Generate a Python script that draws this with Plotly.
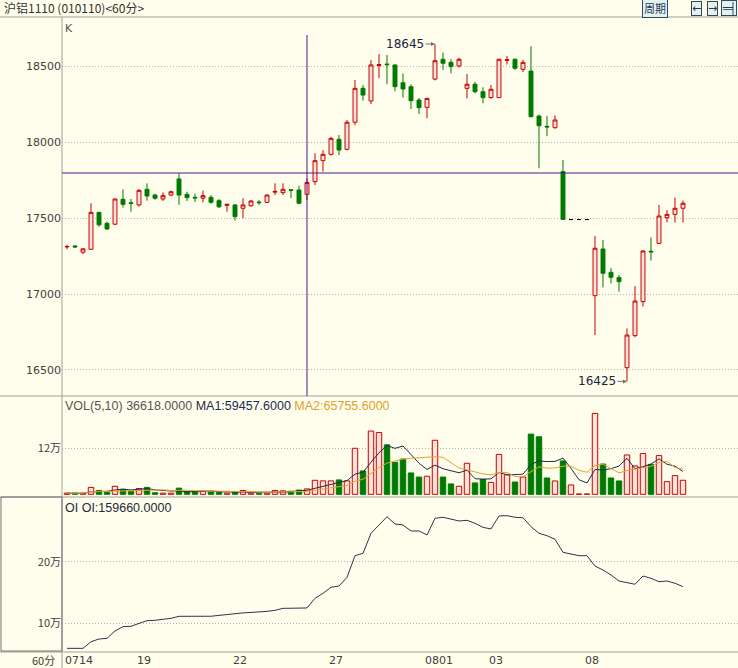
import plotly.graph_objects as go

W, H = 738, 668

# ---------------- data ----------------
candle_no = list(range(1, 79))
open_ = [17310, 17316, 17275, 17294, 17537, 17465, 17459, 17623, 17600, 17586,
         17689, 17651, 17625, 17651, 17757, 17656, 17636, 17630, 17636, 17614,
         17583, 17586, 17564, 17581, 17605, 17603, 17670, 17667, 17686, 17684,
         17656, 17739, 17877, 17919, 18018, 17952, 18130, 18353, 18270, 18503,
         18513, 18507, 18390, 18364, 18276, 18228, 18414, 18544, 18524, 18500,
         18353, 18380, 18331, 18292, 18292, 18537, 18544, 18478, 18467, 18171,
         18103, 18094, 17805, 17490, 17490, 17490, 16989, 17296, 17143, 17108,
         16515, 16726, 16950, 17281, 17333, 17502, 17524, 17564]
close = [17312, 17310, 17297, 17537, 17455, 17428, 17625, 17590, 17596, 17682,
         17645, 17630, 17647, 17673, 17651, 17634, 17632, 17647, 17603, 17574,
         17590, 17509, 17586, 17612, 17601, 17651, 17675, 17689, 17682, 17597,
         17733, 17877, 17919, 18024, 17947, 18130, 18353, 18309, 18507, 18509,
         18509, 18364, 18349, 18272, 18226, 18287, 18535, 18518, 18496, 18544,
         18380, 18331, 18292, 18347, 18544, 18541, 18485, 18524, 18167, 18107,
         18099, 18145, 17491, 17490, 17490, 17490, 17301, 17136, 17110, 17081,
         16730, 16954, 17283, 17277, 17513, 17524, 17564, 17597]
high = [17325, 17322, 17300, 17597, 17540, 17476, 17628, 17689, 17625, 17690,
        17728, 17660, 17669, 17680, 17794, 17673, 17660, 17680, 17650, 17625,
        17592, 17590, 17630, 17618, 17618, 17655, 17728, 17728, 17690, 17713,
        17761, 17926, 17947, 18035, 18046, 18145, 18408, 18375, 18539, 18579,
        18572, 18510, 18452, 18380, 18290, 18290, 18645, 18588, 18545, 18555,
        18447, 18395, 18360, 18375, 18548, 18566, 18550, 18540, 18630, 18180,
        18171, 18175, 17882, 17490, 17490, 17490, 17382, 17355, 17170, 17125,
        16774, 17053, 17290, 17373, 17586, 17553, 17634, 17614]
low = [17295, 17303, 17262, 17290, 17443, 17421, 17455, 17568, 17541, 17575,
       17614, 17620, 17612, 17645, 17586, 17612, 17605, 17603, 17595, 17565,
       17541, 17483, 17498, 17575, 17586, 17600, 17651, 17651, 17630, 17590,
       17618, 17717, 17805, 17910, 17914, 17945, 18110, 18272, 18250, 18419,
       18380, 18335, 18292, 18217, 18184, 18156, 18405, 18474, 18452, 18490,
       18287, 18320, 18255, 18285, 18290, 18510, 18475, 18460, 18160, 17827,
       18039, 18088, 17488, 17490, 17490, 17490, 16730, 17044, 17070, 17015,
       16425, 16715, 16917, 17220, 17330, 17472, 17470, 17470]
volume = [3000, 3000, 2500, 18000, 10000, 5000, 21000, 13000, 8000, 15000,
          18000, 4000, 3000, 3000, 16000, 7000, 7000, 8000, 6000, 5000,
          3000, 6000, 10000, 3000, 2500, 3000, 10000, 9000, 8000, 11000,
          14000, 36500, 35000, 35000, 37500, 35000, 120000, 61000, 165000, 161000,
          129000, 83500, 92000, 55700, 45000, 47000, 141000, 45000, 27000, 21000,
          81000, 29600, 39000, 31000, 104000, 51000, 32000, 45000, 157000, 150000,
          42600, 34800, 87000, 24400, 800, 800, 211000, 79000, 42600, 34800,
          102600, 74000, 106268, 78000, 101000, 33000, 48670, 36618]
open_interest = [59600, 59600, 59600, 70300, 74700, 75800, 87700, 94700, 95300, 100000,
                 104400, 105000, 106600, 108200, 111500, 111500, 111500, 111500, 111600, 113000,
                 114500, 116300, 117000, 117800, 118500, 119500, 121200, 124400, 124600, 124800,
                 125000, 140700, 148800, 158500, 160600, 174700, 209700, 213600, 246000, 259500,
                 272900, 261100, 259500, 249800, 249800, 243300, 270300, 272000, 269200, 266000,
                 267100, 262200, 255700, 253000, 274100, 274600, 272000, 271300, 256700, 246000,
                 242100, 236300, 215200, 212000, 209700, 209700, 193000, 186500, 178400, 168700,
                 166600, 163400, 176800, 173100, 167600, 168700, 165000, 159660]
flat_candles = [64, 65, 66]          # locked bars drawn as black dashes
day_labels = ["0714", "19", "22", "27", "0801", "03", "08"]
day_start = [1, 10, 22, 34, 46, 54, 66]
price_ticks = [16500, 17000, 17500, 18000, 18500]
vol_ticks = [120000]
vol_tick_text = ["12万"]
oi_ticks = [100000, 200000]
oi_tick_text = ["10万", "20万"]
ma_periods = [5, 10]
crosshair_candle = 31
crosshair_price = 17796
high_mark = (47, 18645)
low_mark = (71, 16425)

# ---------------- styles ----------------
BG = "#FFFEEC"
RED = "#C80000"
PINK = "#FFE4DC"
GREEN = "#007A00"
GRID = "#B4B4B4"
BORDER = "#A0A0A0"
LBL = "#404040"
CROSS = "#4A1A8C"
FONT = "DejaVu Sans"
CJK = "Noto Sans CJK SC"


def px_y(p):
    return 1 - p / H


def px_x(p):
    return p / W


def moving_avg(vals, n):
    out = []
    for i in range(len(vals)):
        w = vals[max(0, i - n + 1):i + 1]
        out.append(sum(w) / len(w))
    return out


fig = go.Figure()

norm = [i for i, n in enumerate(candle_no) if n not in flat_candles]
flat = [i for i, n in enumerate(candle_no) if n in flat_candles]

fig.add_trace(go.Candlestick(
    x=[candle_no[i] for i in norm], open=[open_[i] for i in norm],
    high=[high[i] for i in norm], low=[low[i] for i in norm],
    close=[close[i] for i in norm],
    increasing=dict(line=dict(color=RED, width=1), fillcolor=PINK),
    decreasing=dict(line=dict(color=GREEN, width=1), fillcolor=GREEN),
    whiskerwidth=0, xaxis="x", yaxis="y", hoverinfo="skip"))
fig.add_trace(go.Candlestick(
    x=[candle_no[i] for i in flat], open=[open_[i] for i in flat],
    high=[high[i] for i in flat], low=[low[i] for i in flat],
    close=[close[i] for i in flat],
    increasing=dict(line=dict(color="#000000", width=1), fillcolor="#000000"),
    decreasing=dict(line=dict(color="#000000", width=1), fillcolor="#000000"),
    whiskerwidth=0, xaxis="x", yaxis="y", hoverinfo="skip"))

up = [c >= o for o, c in zip(open_, close)]
fig.add_trace(go.Bar(
    x=candle_no, y=volume, width=0.68,
    marker=dict(color=[PINK if u else GREEN for u in up],
                line=dict(color=[RED if u else GREEN for u in up], width=1)),
    xaxis="x2", yaxis="y2", hoverinfo="skip"))
fig.add_trace(go.Scatter(x=candle_no, y=moving_avg(volume, ma_periods[0]), mode="lines",
                         line=dict(color="#1E2A55", width=1), xaxis="x2", yaxis="y2",
                         hoverinfo="skip"))
fig.add_trace(go.Scatter(x=candle_no, y=moving_avg(volume, ma_periods[1]), mode="lines",
                         line=dict(color="#E8A030", width=1), xaxis="x2", yaxis="y2",
                         hoverinfo="skip"))
fig.add_trace(go.Scatter(x=candle_no, y=open_interest, mode="lines",
                         line=dict(color="#2A3550", width=1), xaxis="x3", yaxis="y3",
                         hoverinfo="skip"))

xr = [0.375, 84.875]
xdom = [px_x(62), 1]
xcommon = dict(domain=xdom, range=xr, showticklabels=False, showgrid=False,
               zeroline=False, showline=False, ticks="", fixedrange=True)
ycommon = dict(showline=False, zeroline=False, gridcolor=GRID, griddash="1px,2px",
               gridwidth=1, ticks="", tickfont=dict(family=FONT, size=11, color=LBL),
               fixedrange=True)

fig.update_layout(
    width=W, height=H, margin=dict(l=0, r=0, t=0, b=0),
    paper_bgcolor=BG, plot_bgcolor=BG, showlegend=False,
    xaxis=dict(**xcommon, anchor="y", rangeslider=dict(visible=False)),
    xaxis2=dict(**xcommon, anchor="y2", matches="x"),
    xaxis3=dict(**xcommon, anchor="y3", matches="x"),
    yaxis=dict(**ycommon, domain=[px_y(396), px_y(18)], range=[16328.9, 18815.8],
               tickvals=price_ticks, ticktext=[str(t) for t in price_ticks], anchor="x"),
    yaxis2=dict(**ycommon, domain=[px_y(497), px_y(397)], range=[-7043, 253826],
                tickvals=vol_ticks, ticktext=vol_tick_text, anchor="x2"),
    yaxis3=dict(**ycommon, domain=[px_y(651), px_y(498)], range=[55267, 303241],
                tickvals=oi_ticks, ticktext=oi_tick_text, anchor="x3"),
)
fig.update_yaxes(tickfont=dict(family=CJK, size=11, color=LBL), selector=dict(anchor="x2"))
fig.update_yaxes(tickfont=dict(family=CJK, size=11, color=LBL), selector=dict(anchor="x3"))

shapes = []
for yy in [17, 396, 497, 652]:
    shapes.append(dict(type="line", xref="paper", yref="paper", x0=0, x1=1,
                       y0=px_y(yy), y1=px_y(yy), line=dict(color=BORDER, width=1)))
shapes.append(dict(type="line", xref="paper", yref="paper", x0=px_x(62), x1=px_x(62),
                   y0=0, y1=px_y(17), line=dict(color=BORDER, width=1)))
shapes.append(dict(type="rect", xref="paper", yref="paper", x0=px_x(1), x1=px_x(62),
                   y0=px_y(651), y1=px_y(497), line=dict(color="#707070", width=1)))
# crosshair
shapes.append(dict(type="line", xref="x", yref="paper", x0=crosshair_candle,
                   x1=crosshair_candle, y0=px_y(396), y1=px_y(35),
                   line=dict(color=CROSS, width=1)))
shapes.append(dict(type="line", xref="paper", yref="y", x0=px_x(62), x1=1,
                   y0=crosshair_price, y1=crosshair_price,
                   line=dict(color=CROSS, width=1)))
fig.update_layout(shapes=shapes)

ann = []
ann.append(dict(text="沪铝1110 (010110)&lt;60分&gt;", xref="paper", yref="paper",
                x=px_x(2), y=px_y(8), xanchor="left", yanchor="middle", showarrow=False,
                font=dict(family=CJK, size=12, color="#333333")))
ann.append(dict(text="K", xref="paper", yref="paper", x=px_x(63), y=px_y(28),
                xanchor="left", yanchor="middle", showarrow=False,
                font=dict(family=FONT, size=11, color="#555555")))
ann.append(dict(text="周期", xref="paper", yref="paper", x=px_x(655), y=px_y(8.5),
                xanchor="center", yanchor="middle", showarrow=False,
                font=dict(family=CJK, size=11, color="#1C3A5A"),
                bgcolor="#E4F2EE", bordercolor="#2C4A60", borderwidth=1, borderpad=1))
for xx, t in [(696, "←"), (712, "→"), (729, "═╡")]:
    ann.append(dict(text=t, xref="paper", yref="paper", x=px_x(xx), y=px_y(8.5),
                    xanchor="center", yanchor="middle", showarrow=False,
                    font=dict(family=FONT, size=11, color="#1C3A5A"),
                    bgcolor="#E4F2EE", bordercolor="#2C4A60", borderwidth=1, borderpad=0))
ann.append(dict(text=("VOL(5,10) 36618.0000 <span style='color:#1E2A55'>MA1:59457.6000</span>"
                      " <span style='color:#E0A030'>MA2:65755.6000</span>"),
                xref="paper", yref="paper", x=px_x(63), y=px_y(406), xanchor="left",
                yanchor="middle", showarrow=False,
                font=dict(family="Liberation Sans", size=12.5, color="#555555")))
ann.append(dict(text="OI OI:159660.0000", xref="paper", yref="paper", x=px_x(63),
                y=px_y(508), xanchor="left", yanchor="middle", showarrow=False,
                font=dict(family="Liberation Sans", size=12.5, color="#1E2A40")))
for (cx, cy) in [high_mark, low_mark]:
    ann.append(dict(text=str(cy), xref="x", yref="y", x=cx, y=cy, ax=-30, ay=0,
                    showarrow=True, arrowhead=2, arrowsize=0.8, arrowwidth=1,
                    arrowcolor="#707070", font=dict(family=FONT, size=12, color="#1A2440")))
ann.append(dict(text="60分", xref="paper", yref="paper", x=px_x(57), y=px_y(660),
                xanchor="right", yanchor="middle", showarrow=False,
                font=dict(family=CJK, size=11, color=LBL)))
for lbl, pos in zip(day_labels, day_start):
    ann.append(dict(text=lbl, xref="x3", yref="paper", x=pos, y=px_y(660),
                    xanchor="left", yanchor="middle", xshift=-4, showarrow=False,
                    font=dict(family=FONT, size=11, color=LBL)))
fig.update_layout(annotations=ann)

fig.write_html("out.html", config={"displayModeBar": False},
               post_script="document.body.style.margin='0';document.body.style.overflow='hidden';")
